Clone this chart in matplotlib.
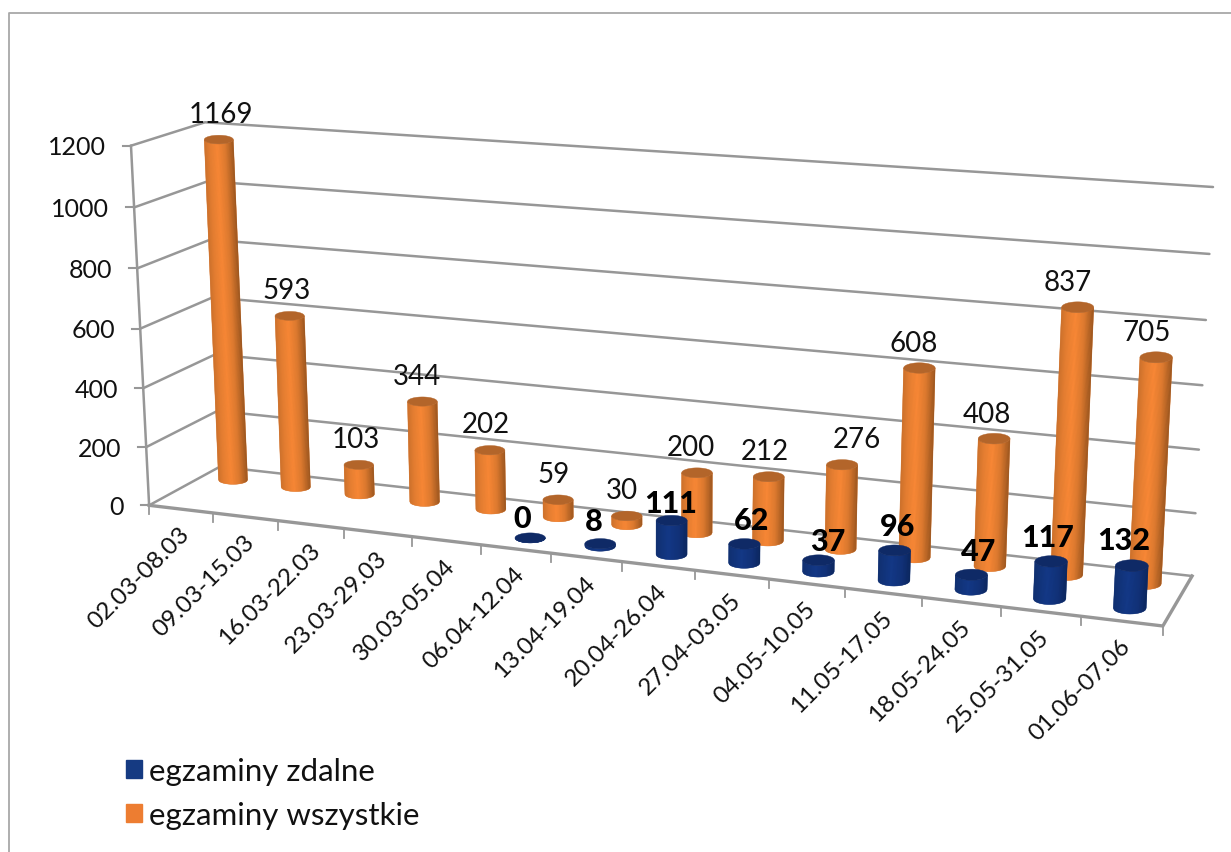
import numpy as np
import matplotlib
matplotlib.use("Agg")
import matplotlib.pyplot as plt
from matplotlib.collections import PolyCollection
from matplotlib.colors import to_rgb
from matplotlib.patches import Patch

# dane
weeks = ["02.03-08.03", "09.03-15.03", "16.03-22.03", "23.03-29.03", "30.03-05.04",
         "06.04-12.04", "13.04-19.04", "20.04-26.04", "27.04-03.05", "04.05-10.05",
         "11.05-17.05", "18.05-24.05", "25.05-31.05", "01.06-07.06"]
zdalne = [None, None, None, None, None, 0, 8, 111, 62, 37, 96, 47, 117, 132]
wszystkie = [1169, 593, 103, 344, 202, 59, 30, 200, 212, 276, 608, 408, 837, 705]
y_ticks = [0, 200, 400, 600, 800, 1000, 1200]
legend_labels = ["egzaminy zdalne", "egzaminy wszystkie"]

FONT = ["Lato", "DejaVu Sans"]
GRID = "#979797"
Y_MAX = 1200

# przesuniecia etykiet (piksele) wzgledem wierzcholka slupka
nudge_all = [(2, -26), (-3, -26), (-3, -26), (-5, -26), (-4, -26), (-5, -26), (-5, -26),
             (-6, -26), (-4, -26), (15, -26), (-6, -25), (-7, -25), (-10, -25), (-9, -25)]
nudge_rem = [None, None, None, None, None, (-8, -20), (-6, -23), (-1, -18), (7, -24),
             (9, -19), (3, -24), (7, -24), (-3, -24), (-8, -26)]


def fit_camera():
    """Macierz kamery 3x4 dopasowana do narozy wykresu widocznych na obrazku"""
    world = [(0, 0, 0), (1, 0, 0), (0, 1, 0), (1, 1, 0), (0, 0, 1), (0, 1, 1), (1, 1, 1)]
    image = [(149, 506), (1163, 627), (220, 468), (1192, 577), (131, 147), (205, 123), (1213, 188)]
    rows = []
    for (a, b, c), (x, y) in zip(world, image):
        rows.append([a, b, c, 1, 0, 0, 0, 0, -x * a, -x * b, -x * c, -x])
        rows.append([0, 0, 0, 0, a, b, c, 1, -y * a, -y * b, -y * c, -y])
    return np.linalg.svd(np.array(rows))[2][-1].reshape(3, 4)


CAM = fit_camera()


def project(u, d, v):
    """(kategoria 0-1, glebokosc 0-1, wartosc 0-1) -> piksele"""
    u, d, v = np.broadcast_arrays(u, d, v)
    pts = CAM @ np.vstack([u.ravel(), d.ravel(), v.ravel(), np.ones(u.size)])
    x = pts[0] / pts[2]
    y = pts[1] / pts[2]
    return (x[0], y[0]) if u.ndim == 0 else (x, y)


def draw_cylinder(ax, i, depth, value, stops, cap, under, zorder):
    n_cat = len(weeks)
    uc = (i + 0.5) / n_cat
    xb, yb = project(uc, depth, 0.0)
    xt, yt = project(uc, depth, value / Y_MAX)

    # promienie elipsy z lokalnej skali perspektywy, elipsy zawsze poziome
    x0, _ = project(i / n_cat, depth, 0.0)
    x1, _ = project((i + 1) / n_cat, depth, 0.0)
    _, y_back = project(uc, depth + 0.1, 0.0)
    rx = 0.1 * (x1 - x0) + 8.3
    ry = 1.15 * abs(yb - y_back)

    # sylwetka pod spodem, zeby krawedz byla gladka
    cx = np.linspace(-1, 1, 41)
    sy = np.sqrt(1 - cx ** 2)
    sil_x = np.r_[xb + rx * cx, xt + rx * cx[::-1]]
    sil_y = np.r_[yb + ry * sy, yt + ry * sy[::-1]]
    ax.fill(sil_x, sil_y, color=under, lw=0.3, zorder=zorder)

    # przednia polowa walca jako pionowe paski od lewej do prawej
    pos, cols = zip(*stops)
    cols = np.array([to_rgb(c) for c in cols])
    polys, faces = [], []
    for k in range(len(cx) - 1):
        polys.append([(xb + rx * cx[k], yb + ry * sy[k]), (xb + rx * cx[k + 1], yb + ry * sy[k + 1]),
                      (xt + rx * cx[k + 1], yt + ry * sy[k + 1]), (xt + rx * cx[k], yt + ry * sy[k])])
        t = (cx[k] + cx[k + 1] + 2) / 4
        faces.append([np.interp(t, pos, cols[:, c]) for c in range(3)])
    ax.add_collection(PolyCollection(polys, facecolors=faces, edgecolors="none", linewidths=0, zorder=zorder + 0.01))

    a = np.linspace(0, 2 * np.pi, 80)
    ax.fill(xt + rx * np.cos(a), yt + ry * np.sin(a), color=cap, lw=0.3, zorder=zorder + 0.1)
    return xt, yt


fig = plt.figure(figsize=(12.31, 8.53), dpi=100)
ax = fig.add_axes([0, 0, 1, 1])
ax.set_xlim(0, 1231)
ax.set_ylim(853, 0)
ax.axis("off")

# ramka wykresu
ax.plot([9, 9, 1231], [853, 14, 14], color="#a8a8a8", lw=1.3, zorder=1)

# siatka: sciana lewa i tylna
for val in y_ticks:
    v = val / Y_MAX
    x, y = project(np.array([0, 0, 1]), np.array([0, 1, 1]), v)
    ax.plot(x, y, color=GRID, lw=1.8, zorder=2, solid_capstyle="round")
    x0, y0 = project(0, 0, v)
    ax.plot([x0 - 8, x0], [y0, y0], color=GRID, lw=1.5, zorder=2)
    ax.text(x0 - 25, y0 + 1, str(val), ha="right", va="center", fontsize=18, color="#111111", family=FONT)

# os pionowa i podloga
x, y = project(0, 0, np.array([0, 1]))
ax.plot(x, y, color=GRID, lw=1.8, zorder=2)
x, y = project(np.array([0, 1, 1]), np.array([0, 0, 1]), 0.0)
ax.plot(x, y, color=GRID, lw=2.4, zorder=2, solid_joinstyle="miter")

# kreski i opisy kategorii
n_cat = len(weeks)
for i in range(n_cat + 1):
    x0, y0 = project(i / n_cat, 0.0, 0.0)
    ax.plot([x0, x0], [y0, y0 + 9], color=GRID, lw=1.3, zorder=2)
for i, week in enumerate(weeks):
    x0, y0 = project((i + 0.5) / n_cat, 0.0, 0.0)
    ax.text(x0 - 2, y0 + 14, week, rotation=45, ha="right", va="top", rotation_mode="anchor",
            fontsize=17.5, color="#111111", family=FONT)

orange = [(0, "#c96f2b"), (0.18, "#e67f32"), (0.45, "#ff8b37"), (0.72, "#dd7a2f"), (1, "#8f4f1c")]
blue = [(0, "#10306f"), (0.4, "#143a8a"), (0.75, "#113177"), (1, "#0b2559")]

# slupki
for i, val in enumerate(wszystkie):
    tx, ty = draw_cylinder(ax, i, 0.74, val, orange, "#b3652a", "#d9772e", 3 + i * 0.01)
    ax.text(tx + nudge_all[i][0], ty + nudge_all[i][1], str(val), ha="center", va="center",
            fontsize=20, color="#111111", family=FONT, zorder=7)
for i, val in enumerate(zdalne):
    if val is None:
        continue
    tx, ty = draw_cylinder(ax, i, 0.25, val, blue, "#0f2a66", "#113177", 5 + i * 0.01)
    ax.text(tx + nudge_rem[i][0], ty + nudge_rem[i][1], str(val), ha="center", va="center",
            fontsize=22, fontweight="black", color="black", family=FONT, zorder=8)

# legenda
handles = [Patch(color="#153a82"), Patch(color="#ed7d31")]
ax.legend(handles, legend_labels, loc="upper left", bbox_to_anchor=(126, 758), bbox_transform=ax.transData,
          frameon=False, prop={"family": FONT, "size": 22.5}, labelcolor="#111111",
          handlelength=0.51, handleheight=0.51, handletextpad=0.22, labelspacing=0.5, borderpad=0, borderaxespad=0)

fig.savefig("out.png", dpi=100)
